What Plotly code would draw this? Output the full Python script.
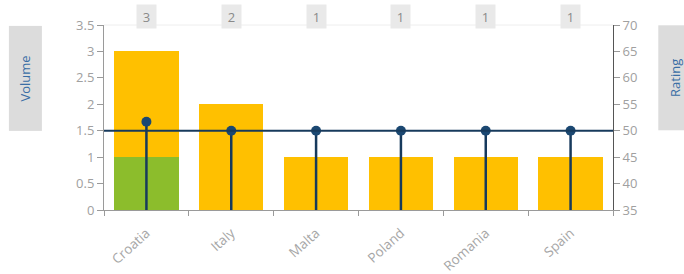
import plotly.graph_objects as go

categories = ["Croatia", "Italy", "Malta", "Poland", "Romania", "Spain"]
volume_green = [1, 0, 0, 0, 0, 0]
volume_yellow = [2, 2, 1, 1, 1, 1]
ratings = [51.7, 50, 50, 50, 50, 50]
rating_base = 35
target_rating = 50
totals = [g + y for g, y in zip(volume_green, volume_yellow)]

NAVY = "#173a5c"
GRAY = "#a0a0a0"
FONT = "Open Sans"

fig = go.Figure()
fig.add_bar(x=categories, y=volume_green, marker_color="#8cbd2c", marker_line_width=0, yaxis="y")
fig.add_bar(x=categories, y=volume_yellow, marker_color="#ffc000", marker_line_width=0, yaxis="y")

sx, sy = [], []
for c, r in zip(categories, ratings):
    sx += [c, c, None]
    sy += [rating_base, r, None]
fig.add_scatter(x=sx, y=sy, mode="lines", line=dict(color=NAVY, width=2.5), yaxis="y2",
                hoverinfo="skip", connectgaps=False)
fig.add_scatter(x=categories, y=ratings, mode="markers",
                marker=dict(color="#1b4872", size=10, line=dict(width=0)), yaxis="y2")

fig.add_shape(type="line", xref="paper", x0=0, x1=1, yref="y2", y0=target_rating, y1=target_rating,
              line=dict(color=NAVY, width=2))
fig.add_shape(type="line", xref="paper", x0=0, x1=1, yref="paper", y0=1, y1=1,
              line=dict(color="#eeeeee", width=1), layer="below")

for c, t in zip(categories, totals):
    fig.add_annotation(x=c, y=1, yref="paper", yanchor="bottom", yshift=-4, text=str(t),
                       showarrow=False, bgcolor="#e9e9e9", width=17, height=21,
                       font=dict(family=FONT, size=13, color="#8a8a8a"))

fig.add_annotation(xref="paper", yref="paper", x=-0.121, y=1, yanchor="top", xanchor="right",
                   text="Volume", textangle=-90, showarrow=False, bgcolor="#dcdcdc",
                   width=102, height=30, font=dict(family=FONT, size=13, color="#3a6ea5"))
fig.add_annotation(xref="paper", yref="paper", x=1.088, y=1, yanchor="top", xanchor="left",
                   text="Rating", textangle=-90, showarrow=False, bgcolor="#dcdcdc",
                   width=102, height=30, font=dict(family=FONT, size=13, color="#3a6ea5"))

fig.update_layout(
    width=684, height=274,
    margin=dict(l=104, r=71, t=25, b=64, autoexpand=False),
    barmode="stack", bargap=0.24,
    showlegend=False,
    plot_bgcolor="white", paper_bgcolor="white",
    font=dict(family=FONT, size=13, color=GRAY),
    xaxis=dict(type="category", showline=True, linecolor="#9a9a9a", ticks="outside",
               tickson="boundaries", ticklen=5, tickcolor="#9a9a9a", tickangle=-42,
               ticklabelstandoff=9, automargin=False,
               tickfont=dict(size=13.5, color="#a6a6a6"), showgrid=False),
    yaxis=dict(range=[0, 3.5], dtick=0.5, showline=True, linecolor="#9a9a9a", ticks="outside",
               ticklen=6, tickcolor="#9a9a9a", showgrid=False, zeroline=False, automargin=False,
               tickfont=dict(size=13, color=GRAY)),
    yaxis2=dict(range=[35, 70], dtick=5, overlaying="y", side="right", showline=True,
                linecolor="#555555", ticks="outside", ticklen=6, tickcolor="#9a9a9a",
                showgrid=False, zeroline=False, automargin=False,
                tickfont=dict(size=13, color=GRAY)),
)

fig.write_html("out.html", config={"displayModeBar": False},
               post_script="document.body.style.margin='0';document.body.style.overflow='hidden';")
